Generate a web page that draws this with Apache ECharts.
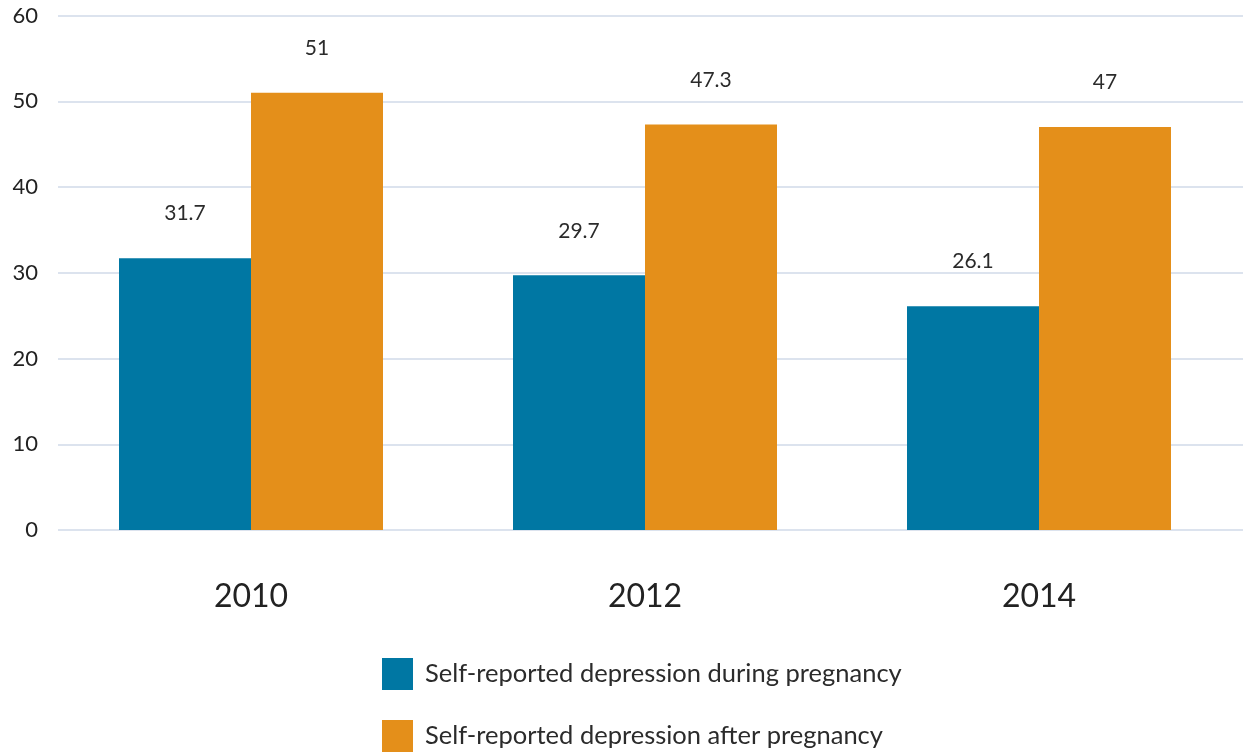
<!DOCTYPE html>
<html>
<head>
<meta charset="utf-8">
<script src="https://cdn.jsdelivr.net/npm/echarts@6/dist/echarts.min.js"></script>
<style>
    html, body { margin: 0; padding: 0; background: #fff; }
    #chart { width: 1243px; height: 753px; }
</style>
</head>
<body>
<div id="chart"></div>
<script>
    const years = ['2010', '2012', '2014']
    const duringPregnancy = [31.7, 29.7, 26.1]
    const afterPregnancy = [51, 47.3, 47]
    const yTicks = [0, 10, 20, 30, 40, 50, 60]
    const seriesNames = ['Self-reported depression during pregnancy', 'Self-reported depression after pregnancy']

    const font = 'Lato'
    const chart = echarts.init(document.getElementById('chart'))

    const labelStyle = {
        show: true,
        position: 'top',
        distance: 34,
        fontFamily: font,
        fontSize: 21,
        color: '#2b2b2b'
    }

    // one legend per row so they stack like the original
    const legendRow = (name, top) => ({
        left: 377,
        top: top,
        itemWidth: 31,
        itemHeight: 32,
        icon: 'rect',
        selectedMode: false,
        textStyle: {
            fontFamily: font,
            fontSize: 25.5,
            color: '#2b2b2b',
            padding: [0, 0, 0, 7]
        },
        data: [name]
    })

    chart.setOption({
        animation: false,
        // grid 0 only carries the gridlines and y labels, grid 1 holds the bars
        grid: [
            { left: 58, right: 0, top: 15.5, bottom: 223 },
            { left: 54, right: 7, top: 15.5, bottom: 223 }
        ],
        legend: [
            legendRow(seriesNames[0], 653),
            legendRow(seriesNames[1], 715)
        ],
        xAxis: [
            { type: 'value', gridIndex: 0, show: false, min: 0, max: 1 },
            {
                type: 'category',
                gridIndex: 1,
                data: years,
                axisLine: { show: false },
                axisTick: { show: false },
                axisLabel: {
                    margin: 51,
                    fontFamily: font,
                    fontSize: 32,
                    color: '#222'
                }
            }
        ],
        yAxis: [
            {
                type: 'value',
                gridIndex: 0,
                min: yTicks[0],
                max: yTicks[yTicks.length - 1],
                interval: 10,
                axisLine: { show: false },
                axisTick: { show: false },
                axisLabel: {
                    margin: 20,
                    fontFamily: font,
                    fontSize: 22,
                    color: '#222'
                },
                splitLine: { lineStyle: { color: '#dce3ee', width: 2 } }
            },
            {
                type: 'value',
                gridIndex: 1,
                min: yTicks[0],
                max: yTicks[yTicks.length - 1],
                interval: 10,
                show: false,
                splitLine: { show: false }
            }
        ],
        series: [
            {
                name: seriesNames[0],
                type: 'bar',
                xAxisIndex: 1,
                yAxisIndex: 1,
                data: duringPregnancy,
                barWidth: 132,
                barGap: '0%',
                itemStyle: { color: '#0077a3' },
                label: labelStyle
            },
            {
                name: seriesNames[1],
                type: 'bar',
                xAxisIndex: 1,
                yAxisIndex: 1,
                data: afterPregnancy,
                barWidth: 132,
                barGap: '0%',
                itemStyle: { color: '#e48f1a' },
                label: labelStyle
            }
        ]
    })
</script>
</body>
</html>
